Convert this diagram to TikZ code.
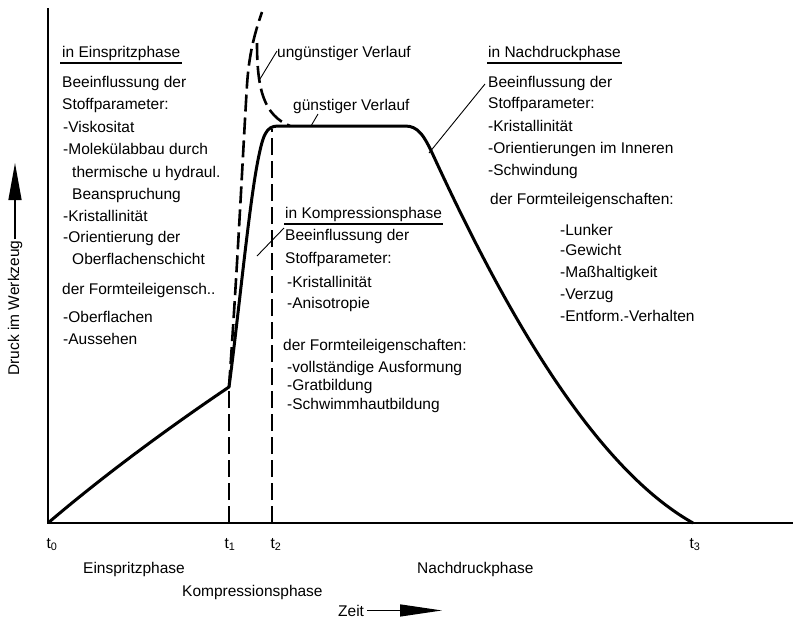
\documentclass[tikz,border=0pt]{standalone}
\usepackage{fontspec}
\setmainfont{Liberation Sans}
\usetikzlibrary{arrows.meta}
\newcommand\dtxt{\fontsize{15.5}{18}\selectfont}
\begin{document}
\begin{tikzpicture}[x=1pt,y=-1pt,
  lbl/.style={anchor=base west,inner sep=0pt,font=\dtxt},
  clbl/.style={anchor=base,inner sep=0pt,font=\dtxt},
  axisline/.style={line width=2pt},
  maincurve/.style={line width=3pt,line join=round},
  dashcurve/.style={line width=2.6pt,dash pattern=on 17pt off 6pt},
  leader/.style={line width=0.9pt},
  uline/.style={line width=1.6pt},
  arrowshaft/.style={line width=1.3pt}]
\useasboundingbox (0,0) rectangle (793,622);

% axes
\coordinate (top) at (48,8);
\coordinate (o) at (48,523);
\coordinate (xend) at (793,523);
\draw[axisline] (top) -- (o) -- (xend);

% main curve
\coordinate (j1) at (229,387);
\coordinate (p1) at (258,160);
\coordinate (pa) at (278,126);
\coordinate (pb) at (405,126);
\coordinate (d1) at (434,157);
\coordinate (t3p) at (693,523);
\draw[maincurve] (o) .. controls (110,470) and (180,420) .. (j1)
  .. controls (238,320) and (249,205) .. (p1)
  .. controls (263,135) and (266,126) .. (pa) -- (pb)
  .. controls (418,126) and (424,135) .. (d1)
  .. controls (500,300) and (590,465) .. (t3p);

% dashed lines
\coordinate (t1b) at (229,523);
\coordinate (t2b) at (272,523);
\coordinate (t2t) at (272,129);
\coordinate (u1) at (247,85);
\coordinate (peak) at (262,12);
\coordinate (f0) at (257,43);
\coordinate (f1) at (290,126);
\draw[dashcurve] (t1b) -- (j1);
\draw[dashcurve] (j1) .. controls (238,260) and (243,150) .. (u1)
  .. controls (249,55) and (254,35) .. (peak);
\draw[dashcurve] (f0) .. controls (257,90) and (264,115) .. (f1);
\draw[dashcurve] (t2b) -- (t2t);

% leaders
\coordinate (ungA) at (277,51);
\coordinate (ungB) at (260,79);
\coordinate (gA) at (318,114);
\coordinate (gB) at (311,126);
\coordinate (nA) at (485,84);
\coordinate (nB) at (429,153);
\coordinate (kA) at (284,228);
\coordinate (kB) at (257,256);
\draw[leader] (ungA) -- (ungB);
\draw[leader] (gA) -- (gB);
\draw[leader] (nA) -- (nB);
\draw[leader] (kA) -- (kB);

% curve labels
\node[lbl] (ung) at (277,57) {ungünstiger Verlauf};
\node[lbl] (gun) at (293,110) {günstiger Verlauf};

% left block
\node[lbl] (h1) at (62,57) {in Einspritzphase};
\draw[uline] ([shift={(-2pt,-6pt)}]h1.base west) -- ([shift={(2pt,-6pt)}]h1.base east);
\node[lbl] (l1) at (62,87) {Beeinflussung der};
\node[lbl] (l2) at (62,109) {Stoffparameter:};
\node[lbl] (l3) at (63,132) {-Viskositat};
\node[lbl] (l4) at (63,154) {-Molekülabbau durch};
\node[lbl] (l5) at (72,177) {thermische u hydraul.};
\node[lbl] (l6) at (72,199) {Beanspruchung};
\node[lbl] (l7) at (63,221) {-Kristallinität};
\node[lbl] (l8) at (63,242) {-Orientierung der};
\node[lbl] (l9) at (72,264) {Oberflachenschicht};
\node[lbl] (l10) at (62,294) {der Formteileigensch..};
\node[lbl] (l11) at (63,322) {-Oberflachen};
\node[lbl] (l12) at (63,344) {-Aussehen};

% middle block
\node[lbl] (h2) at (285,218) {in Kompressionsphase};
\draw[uline] ([shift={(-1pt,-6pt)}]h2.base west) -- ([shift={(1pt,-6pt)}]h2.base east);
\node[lbl] (m1) at (285,240) {Beeinflussung der};
\node[lbl] (m2) at (285,263) {Stoffparameter:};
\node[lbl] (m3) at (287,287) {-Kristallinität};
\node[lbl] (m4) at (287,308) {-Anisotropie};
\node[lbl] (m5) at (283,350) {der Formteileigenschaften:};
\node[lbl] (m6) at (287,372) {-vollständige Ausformung};
\node[lbl] (m7) at (287,390) {-Gratbildung};
\node[lbl] (m8) at (287,409) {-Schwimmhautbildung};

% right block
\node[lbl] (h3) at (488,57) {in Nachdruckphase};
\draw[uline] ([shift={(-1pt,-6pt)}]h3.base west) -- ([shift={(1pt,-6pt)}]h3.base east);
\node[lbl] (r1) at (488,87) {Beeinflussung der};
\node[lbl] (r2) at (488,108) {Stoffparameter:};
\node[lbl] (r3) at (488,131) {-Kristallinität};
\node[lbl] (r4) at (488,153) {-Orientierungen im Inneren};
\node[lbl] (r5) at (488,175) {-Schwindung};
\node[lbl] (r6) at (490,204) {der Formteileigenschaften:};
\node[lbl] (r7) at (560,235) {-Lunker};
\node[lbl] (r8) at (560,255) {-Gewicht};
\node[lbl] (r9) at (560,277) {-Maßhaltigkeit};
\node[lbl] (r10) at (560,299) {-Verzug};
\node[lbl] (r11) at (560,321) {-Entform.-Verhalten};

% time axis labels
\node[clbl] (t0) at (52,548) {t\textsubscript{0}};
\node[clbl] (t1) at (230,548) {t\textsubscript{1}};
\node[clbl] (t2) at (276,548) {t\textsubscript{2}};
\node[clbl] (t3) at (695,548) {t\textsubscript{3}};
\node[lbl] (ph1) at (83,573) {Einspritzphase};
\node[lbl] (ph2) at (182,596) {Kompressionsphase};
\node[lbl] (ph3) at (417,573) {Nachdruckphase};

% Zeit arrow
\node[lbl] (zeit) at (338,616) {Zeit};
\coordinate (zt) at (442,610);
\draw[arrowshaft,-{Triangle[length=42pt,width=12pt]}] ([xshift=3pt]zeit.east) -- (zeit.east -| zt);

% y label arrow
\node[font=\dtxt,rotate=90,inner sep=1pt] (ylab) at (15,308) {Druck im Werkzeug};
\coordinate (ytip) at (15,163);
\draw[arrowshaft,-{Triangle[length=37pt,width=13pt]}] (ylab.east) -- (ytip);
\end{tikzpicture}
\end{document}
